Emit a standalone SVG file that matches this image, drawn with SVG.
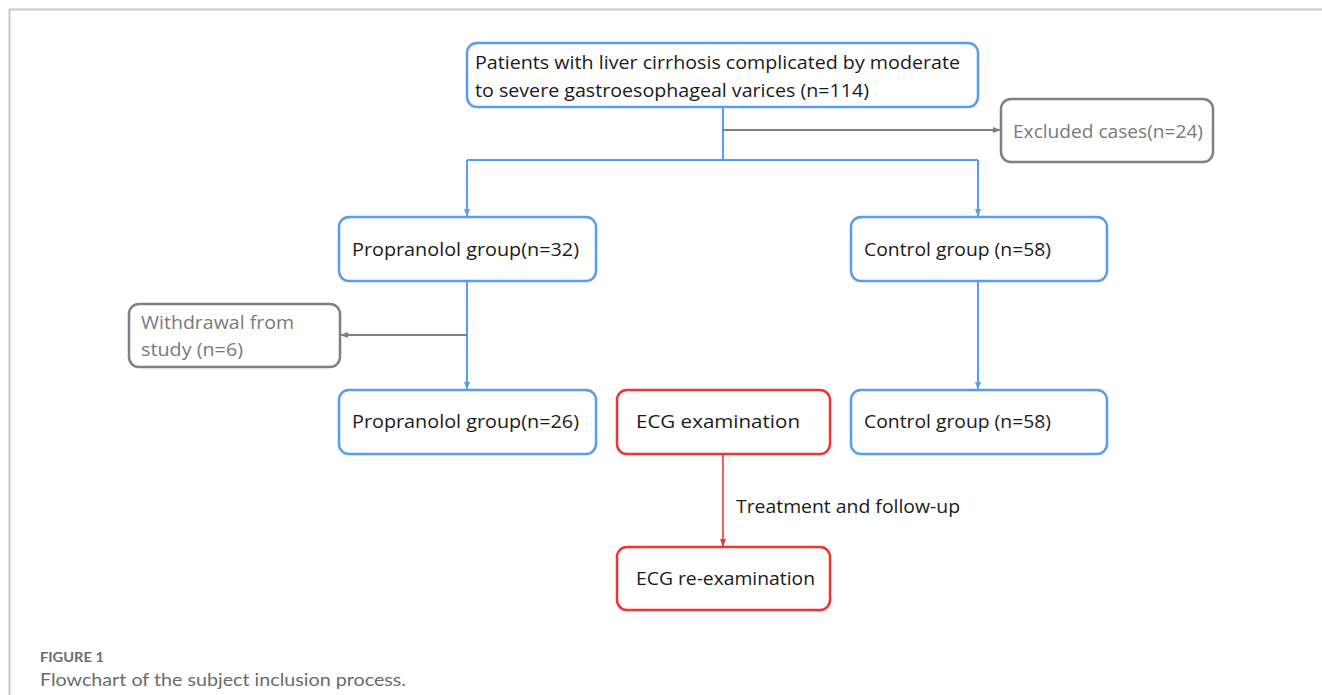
<svg xmlns="http://www.w3.org/2000/svg" width="1322" height="695" viewBox="0 0 1322 695">
<style>
.b{fill:#fff;stroke:#5a9cf2;stroke-width:2.5}
.r{fill:#fff;stroke:#f03434;stroke-width:2.5}
.g{fill:#fff;stroke:#808080;stroke-width:2.5}
.t{font-family:"Open Sans","Liberation Sans",sans-serif;font-size:19px;fill:#1a1a1a}
.tg{font-family:"Open Sans","Liberation Sans",sans-serif;font-size:19px;fill:#7a7a7a}
.lb{fill:none;stroke:#5a9cf2;stroke-width:2}
.lr{fill:none;stroke:#f03434;stroke-width:1.6}
.lg{fill:none;stroke:#808080;stroke-width:2}
.cap{font-family:"Lato","Liberation Sans",sans-serif;fill:#6b6b6b}
</style>
<defs>
<marker id="ab" markerWidth="8" markerHeight="8" refX="7" refY="4" orient="auto" markerUnits="userSpaceOnUse"><path d="M0,1 L8,4 L0,7 Z" fill="#5a9cf2"/></marker>
<marker id="ar" markerWidth="8" markerHeight="8" refX="7" refY="4" orient="auto" markerUnits="userSpaceOnUse"><path d="M0,1 L8,4 L0,7 Z" fill="#f03434"/></marker>
<marker id="ag" markerWidth="8" markerHeight="8" refX="7" refY="4" orient="auto" markerUnits="userSpaceOnUse"><path d="M0,1 L8,4 L0,7 Z" fill="#808080"/></marker>
</defs>
<rect width="1322" height="695" fill="#fff"/>
<path d="M9.5,695 V9.5 H1322" fill="none" stroke="#c8c8c8" stroke-width="2"/>
<g id="connectors">
<path class="lb" d="M723,107 V160"/>
<path class="lb" d="M467,160 H978"/>
<path class="lb" d="M467,160 V216" marker-end="url(#ab)"/>
<path class="lb" d="M978,160 V216" marker-end="url(#ab)"/>
<path class="lg" d="M723,130 H1000" marker-end="url(#ag)"/>
<path class="lb" d="M467,281 V389" marker-end="url(#ab)"/>
<path class="lg" d="M467,335 H341" marker-end="url(#ag)"/>
<path class="lb" d="M978,281 V389" marker-end="url(#ab)"/>
<path class="lr" d="M723,454 V546" marker-end="url(#ar)"/>
<text class="t" x="736" y="513" textLength="224" lengthAdjust="spacingAndGlyphs">Treatment and follow-up</text>
</g>
<g id="n-top"><rect class="b" x="467" y="43" width="511" height="64" rx="10"/>
<text class="t" x="475" y="69" textLength="485" lengthAdjust="spacingAndGlyphs">Patients with liver cirrhosis complicated by moderate</text>
<text class="t" x="475" y="97" textLength="394" lengthAdjust="spacingAndGlyphs">to severe gastroesophageal varices (n=114)</text></g>
<g id="n-excluded"><rect class="g" x="1001" y="99" width="212" height="63" rx="10"/>
<text class="tg" x="1013" y="138" textLength="190" lengthAdjust="spacingAndGlyphs">Excluded cases(n=24)</text></g>
<g id="n-prop32"><rect class="b" x="339" y="217" width="257" height="64" rx="10"/>
<text class="t" x="352" y="256" textLength="227" lengthAdjust="spacingAndGlyphs">Propranolol group(n=32)</text></g>
<g id="n-control1"><rect class="b" x="851" y="217" width="256" height="64" rx="10"/>
<text class="t" x="864" y="256" textLength="187" lengthAdjust="spacingAndGlyphs">Control group (n=58)</text></g>
<g id="n-withdrawal"><rect class="g" x="129" y="304" width="211" height="63" rx="10"/>
<text class="tg" x="141" y="329" textLength="153" lengthAdjust="spacingAndGlyphs">Withdrawal from</text>
<text class="tg" x="141" y="356" textLength="102" lengthAdjust="spacingAndGlyphs">study (n=6)</text></g>
<g id="n-prop26"><rect class="b" x="339" y="390" width="257" height="64" rx="10"/>
<text class="t" x="352" y="428" textLength="227" lengthAdjust="spacingAndGlyphs">Propranolol group(n=26)</text></g>
<g id="n-ecg"><rect class="r" x="617" y="390" width="213" height="64" rx="10"/>
<text class="t" x="636" y="428" textLength="164" lengthAdjust="spacingAndGlyphs">ECG examination</text></g>
<g id="n-control2"><rect class="b" x="851" y="390" width="256" height="64" rx="10"/>
<text class="t" x="864" y="428" textLength="187" lengthAdjust="spacingAndGlyphs">Control group (n=58)</text></g>
<g id="n-ecgre"><rect class="r" x="617" y="547" width="213" height="63" rx="10"/>
<text class="t" x="636" y="585" textLength="179" lengthAdjust="spacingAndGlyphs">ECG re-examination</text></g>
<text class="cap" x="40" y="662" font-size="12.5" font-weight="bold" textLength="64" lengthAdjust="spacingAndGlyphs">FIGURE 1</text>
<text class="cap" x="40" y="686" font-size="17.5" textLength="366" lengthAdjust="spacingAndGlyphs">Flowchart of the subject inclusion process.</text>
</svg>
